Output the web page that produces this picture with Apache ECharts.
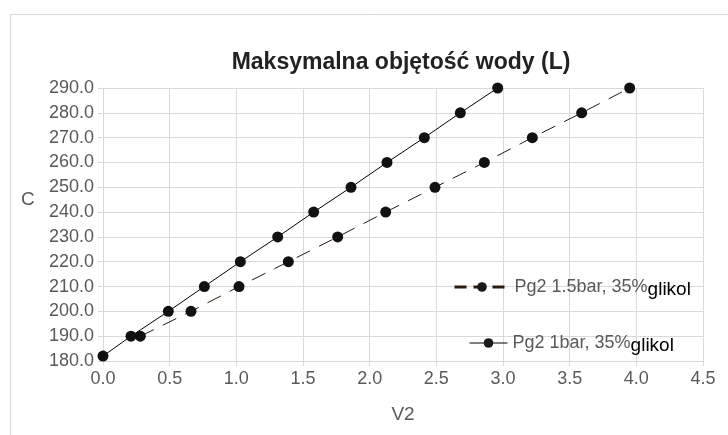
<!DOCTYPE html>
<html>
<head>
<meta charset="utf-8">
<script src="https://cdn.jsdelivr.net/npm/echarts@6/dist/echarts.min.js"></script>
<style>
  html, body { margin: 0; padding: 0; background: #fff; }
  #chart { width: 728px; height: 435px; }
</style>
</head>
<body>
<div id="chart"></div>
<script>
// Water volume (C) against V2 for two pressure settings, 35% glycol
const titleText = 'Maksymalna objętość wody (L)';
const yAxisName = 'C';
const xAxisName = 'V2';
const seriesNames = ['Pg2 1.5bar, 35% glikol', 'Pg2 1bar, 35% glikol'];

const v2_15bar = [0.28, 0.66, 1.02, 1.39, 1.76, 2.12, 2.49, 2.86, 3.22, 3.59, 3.95];
const c_15bar  = [190, 200, 210, 220, 230, 240, 250, 260, 270, 280, 290];

const v2_1bar = [0.00, 0.21, 0.49, 0.76, 1.03, 1.31, 1.58, 1.86, 2.13, 2.41, 2.68, 2.96];
const c_1bar  = [182, 190, 200, 210, 220, 230, 240, 250, 260, 270, 280, 290];

const pairs = (xs, ys) => xs.map((x, i) => [x, ys[i]]);

const FONT = 'Liberation Sans, Arial, sans-serif';
const GRID = '#d9d9d9';
const LABEL = '#595959';

const labelRich = {
  a: { color: LABEL, fontSize: 18, fontFamily: FONT, lineHeight: 24 },
  b: { color: '#000', fontSize: 19, fontFamily: FONT, lineHeight: 24, padding: [5, 0, 0, 0] }
};
const legendFmt = name => {
  const i = name.lastIndexOf(' ');
  return '{a|' + name.slice(0, i) + '}{b|' + name.slice(i + 1) + '}';
};

const chart = echarts.init(document.getElementById('chart'), null, { renderer: 'canvas' });
chart.setOption({
  animation: false,
  backgroundColor: '#fff',
  graphic: [{
    type: 'rect', left: 8, top: 12, silent: true,
    shape: { width: 760, height: 460 },
    style: { fill: 'none', stroke: GRID, lineWidth: 1 }
  }, {
    // y-axis title sits a little above the axis middle
    type: 'text', left: 21, top: 190, silent: true,
    style: { text: yAxisName, fill: LABEL, font: '19px ' + FONT }
  }],
  title: {
    text: titleText, left: 396, textAlign: 'center', top: 46,
    textStyle: { fontFamily: FONT, fontWeight: 'bold', fontSize: 23, color: '#222' }
  },
  grid: { left: 103, right: 25, top: 88, bottom: 74 },
  legend: [{
    data: [seriesNames[0]], left: 448, top: 270, itemWidth: 55, itemHeight: 12, itemGap: 4,
    lineStyle: { width: 3, type: [12, 7], color: '#2b1a0f' },
    itemStyle: { color: '#1a1a1a' },
    formatter: legendFmt, textStyle: { rich: labelRich }
  }, {
    data: [seriesNames[1]], left: 464, top: 326, itemWidth: 38, itemHeight: 12, itemGap: 4,
    lineStyle: { width: 1, color: '#000' },
    itemStyle: { color: '#1a1a1a' },
    formatter: legendFmt, textStyle: { rich: labelRich }
  }],
  xAxis: {
    type: 'value', min: 0, max: 4.5, interval: 0.5,
    name: xAxisName, nameLocation: 'middle', nameGap: 44,
    nameTextStyle: { color: LABEL, fontSize: 19, fontFamily: FONT },
    axisLine: { show: true, lineStyle: { color: GRID, width: 1 } },
    axisTick: { show: true, length: 5, lineStyle: { color: GRID } },
    splitLine: { show: true, lineStyle: { color: GRID, width: 1 } },
    axisLabel: {
      color: LABEL, fontSize: 18, fontFamily: FONT, margin: 9,
      formatter: v => v.toFixed(1)
    }
  },
  yAxis: {
    type: 'value', min: 180, max: 290, interval: 10,
    axisLine: { show: true, lineStyle: { color: GRID, width: 1 } },
    axisTick: { show: true, length: 5, lineStyle: { color: GRID } },
    splitLine: { show: true, lineStyle: { color: GRID, width: 1 } },
    axisLabel: {
      color: LABEL, fontSize: 18, fontFamily: FONT, margin: 9,
      formatter: v => v.toFixed(1)
    }
  },
  series: [{
    name: seriesNames[0], type: 'line', data: pairs(v2_15bar, c_15bar),
    symbol: 'circle', symbolSize: 11,
    lineStyle: { color: '#2b1a0f', width: 1, type: [15, 10] },
    itemStyle: { color: '#111' }, z: 2
  }, {
    name: seriesNames[1], type: 'line', data: pairs(v2_1bar, c_1bar),
    symbol: 'circle', symbolSize: 11,
    lineStyle: { color: '#000', width: 1 },
    itemStyle: { color: '#111' }, z: 3
  }]
});
</script>
</body>
</html>
